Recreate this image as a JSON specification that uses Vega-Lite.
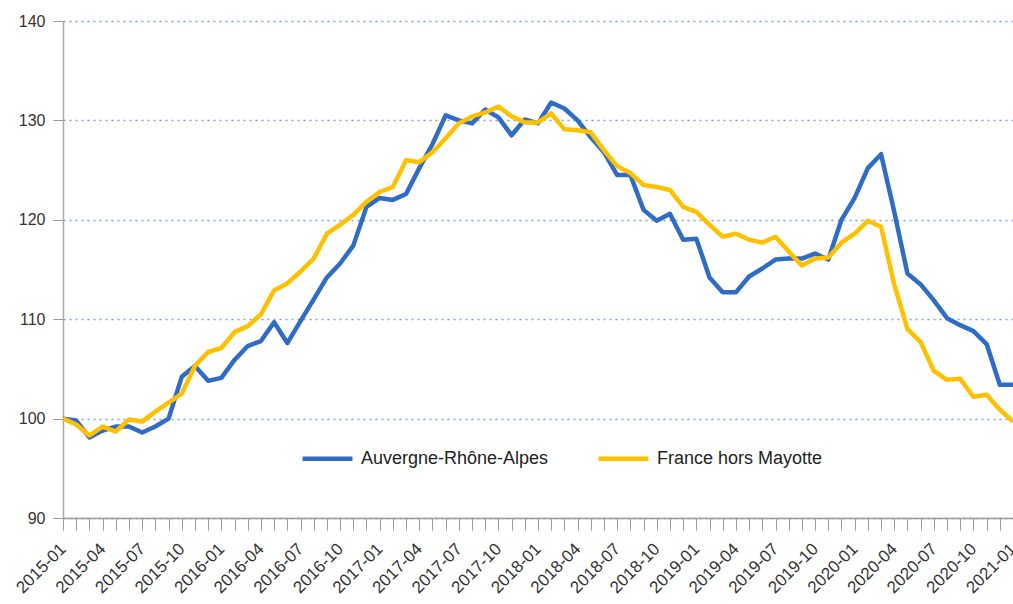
{
  "$schema": "https://vega.github.io/schema/vega-lite/v6.json",
  "width": 950,
  "height": 497,
  "autosize": {"type": "none"},
  "padding": {"left": 63, "top": 21, "right": 0, "bottom": 86},
  "background": "white",
  "config": {"view": {"stroke": null}, "font": "Liberation Sans"},
  "data": {"values": [
    {"mois":"2015-01","a":100.0,"f":100.0},{"mois":"2015-02","a":99.8,"f":99.4},{"mois":"2015-03","a":98.1,"f":98.3},
    {"mois":"2015-04","a":98.8,"f":99.2},{"mois":"2015-05","a":99.2,"f":98.7},{"mois":"2015-06","a":99.2,"f":99.9},
    {"mois":"2015-07","a":98.6,"f":99.7},{"mois":"2015-08","a":99.2,"f":100.7},{"mois":"2015-09","a":100.0,"f":101.6},
    {"mois":"2015-10","a":104.2,"f":102.5},{"mois":"2015-11","a":105.3,"f":105.3},{"mois":"2015-12","a":103.8,"f":106.7},
    {"mois":"2016-01","a":104.1,"f":107.1},{"mois":"2016-02","a":105.9,"f":108.7},{"mois":"2016-03","a":107.3,"f":109.3},
    {"mois":"2016-04","a":107.8,"f":110.5},{"mois":"2016-05","a":109.7,"f":112.9},{"mois":"2016-06","a":107.6,"f":113.6},
    {"mois":"2016-07","a":109.8,"f":114.8},{"mois":"2016-08","a":112.0,"f":116.1},{"mois":"2016-09","a":114.2,"f":118.6},
    {"mois":"2016-10","a":115.6,"f":119.5},{"mois":"2016-11","a":117.4,"f":120.5},{"mois":"2016-12","a":121.3,"f":121.8},
    {"mois":"2017-01","a":122.2,"f":122.8},{"mois":"2017-02","a":122.0,"f":123.3},{"mois":"2017-03","a":122.6,"f":126.0},
    {"mois":"2017-04","a":125.2,"f":125.8},{"mois":"2017-05","a":127.6,"f":126.8},{"mois":"2017-06","a":130.5,"f":128.2},
    {"mois":"2017-07","a":130.0,"f":129.7},{"mois":"2017-08","a":129.7,"f":130.4},{"mois":"2017-09","a":131.1,"f":130.8},
    {"mois":"2017-10","a":130.3,"f":131.4},{"mois":"2017-11","a":128.5,"f":130.4},{"mois":"2017-12","a":130.1,"f":129.8},
    {"mois":"2018-01","a":129.7,"f":129.8},{"mois":"2018-02","a":131.8,"f":130.7},{"mois":"2018-03","a":131.2,"f":129.1},
    {"mois":"2018-04","a":130.0,"f":129.0},{"mois":"2018-05","a":128.3,"f":128.8},{"mois":"2018-06","a":126.8,"f":127.0},
    {"mois":"2018-07","a":124.5,"f":125.4},{"mois":"2018-08","a":124.5,"f":124.7},{"mois":"2018-09","a":121.0,"f":123.5},
    {"mois":"2018-10","a":119.9,"f":123.3},{"mois":"2018-11","a":120.6,"f":123.0},{"mois":"2018-12","a":118.0,"f":121.3},
    {"mois":"2019-01","a":118.1,"f":120.8},{"mois":"2019-02","a":114.2,"f":119.5},{"mois":"2019-03","a":112.7,"f":118.3},
    {"mois":"2019-04","a":112.7,"f":118.6},{"mois":"2019-05","a":114.3,"f":118.0},{"mois":"2019-06","a":115.1,"f":117.7},
    {"mois":"2019-07","a":116.0,"f":118.3},{"mois":"2019-08","a":116.1,"f":116.8},{"mois":"2019-09","a":116.1,"f":115.4},
    {"mois":"2019-10","a":116.6,"f":116.1},{"mois":"2019-11","a":116.0,"f":116.2},{"mois":"2019-12","a":120.0,"f":117.7},
    {"mois":"2020-01","a":122.2,"f":118.6},{"mois":"2020-02","a":125.2,"f":119.9},{"mois":"2020-03","a":126.6,"f":119.3},
    {"mois":"2020-04","a":120.8,"f":113.5},{"mois":"2020-05","a":114.6,"f":109.0},{"mois":"2020-06","a":113.5,"f":107.7},
    {"mois":"2020-07","a":111.9,"f":104.8},{"mois":"2020-08","a":110.1,"f":103.9},{"mois":"2020-09","a":109.4,"f":104.0},
    {"mois":"2020-10","a":108.8,"f":102.2},{"mois":"2020-11","a":107.5,"f":102.4},{"mois":"2020-12","a":103.4,"f":100.9},
    {"mois":"2021-01","a":103.4,"f":99.7}
  ]},
  "transform": [
    {"fold": ["a", "f"], "as": ["cle", "indice"]},
    {"lookup": "cle", "from": {"data": {"values": [
      {"cle": "a", "serie": "Auvergne-Rhône-Alpes"},
      {"cle": "f", "serie": "France hors Mayotte"}
    ]}, "key": "cle", "fields": ["serie"]}}
  ],
  "mark": {"type": "line", "strokeWidth": 4.5, "strokeJoin": "round", "strokeCap": "butt"},
  "encoding": {
    "x": {
      "field": "mois", "type": "ordinal",
      "scale": {"type": "point", "padding": 0},
      "axis": {
        "title": null,
        "labelAngle": -45,
        "labelAlign": "right",
        "labelBaseline": "middle",
        "labelExpr": "indexof(['01','04','07','10'], slice(datum.value, 5)) >= 0 ? datum.value : ''",
        "labelFont": "Liberation Sans",
        "labelFontSize": 17,
        "labelColor": "#333333",
        "labelPadding": 16,
        "labelOverlap": false,
        "labelBound": false,
        "tickColor": "#999999",
        "tickSize": 12,
        "domainColor": "#999999",
        "domainWidth": 1.5,
        "grid": false
      }
    },
    "y": {
      "field": "indice", "type": "quantitative",
      "scale": {"domain": [90, 140], "nice": false, "zero": false},
      "axis": {
        "title": null,
        "values": [90, 100, 110, 120, 130, 140],
        "labelFont": "Liberation Sans",
        "labelFontSize": 16,
        "labelColor": "#333333",
        "labelPadding": 8,
        "tickColor": "#999999",
        "tickSize": 10,
        "domainColor": "#aaaaaa",
        "domainWidth": 1.5,
        "grid": true,
        "gridColor": "#7f9fdc",
        "gridDash": [2, 4],
        "gridWidth": 1.3
      }
    },
    "color": {
      "field": "serie", "type": "nominal",
      "scale": {"domain": ["Auvergne-Rhône-Alpes", "France hors Mayotte"], "range": ["#2f6cc6", "#ffc000"]},
      "legend": {
        "title": null,
        "orient": "none",
        "direction": "horizontal",
        "legendX": 237,
        "legendY": 410,
        "symbolType": "stroke",
        "symbolSize": 2500,
        "symbolStrokeWidth": 4.5,
        "labelFont": "Liberation Sans",
        "labelFontSize": 18,
        "labelColor": "#222222",
        "labelOffset": 6,
        "columnPadding": 40,
        "labelLimit": 400
      }
    }
  }
}
